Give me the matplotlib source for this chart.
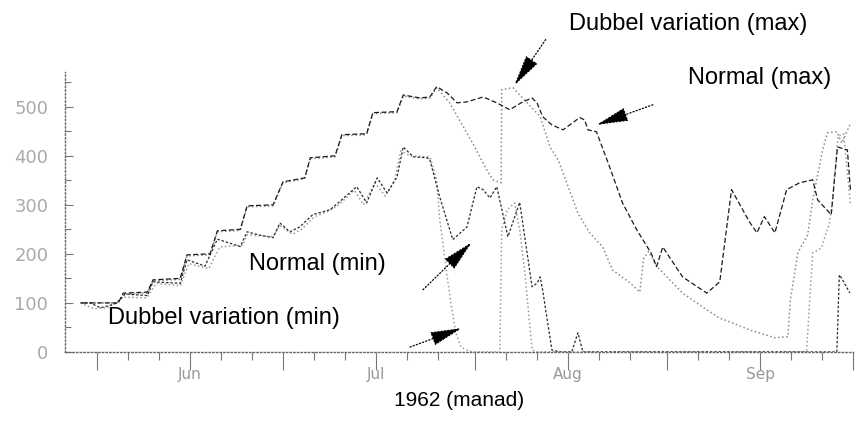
import matplotlib.pyplot as plt
import numpy as np

# dagar efter 1 juni 1962
norm_max_d = [-2.4, 3.4, 4.2, 8.1, 9.0, 13.4, 14.5, 18.2, 19.4, 23.1, 24.2, 28.4, 30.0, 33.5,
              34.4, 38.4, 39.5, 43.5, 44.5, 48.4, 49.4, 52.1, 53.7, 54.8, 56.5, 58.1, 59.7,
              62.3, 64.5, 66.6, 68.7, 70.2, 71.0, 71.9, 73.4, 75.2, 77.9, 78.7, 79.2, 80.6,
              82.7, 84.8, 87.1, 89.4, 90.3, 91.3, 94.5, 98.4, 100.5, 102.4, 105.3, 106.5,
              107.7, 109.4, 111.3, 113.4, 115.5, 116.3, 118.5, 119.5, 121.1, 121.6]
norm_max_v = [100, 100, 120, 122, 147, 150, 198, 200, 247, 250, 298, 300, 347, 355,
              396, 400, 443, 445, 488, 490, 524, 518, 520, 541, 528, 508, 510,
              520, 508, 494, 510, 518, 508, 480, 463, 453, 478, 473, 453, 449,
              378, 304, 249, 202, 174, 214, 153, 120, 143, 331, 265, 243,
              276, 243, 331, 345, 351, 310, 280, 418, 412, 330]

dub_max_d = [-2.4, 3.4, 4.2, 8.1, 9.0, 13.4, 14.5, 18.2, 19.4, 23.1, 24.2, 28.4, 30.0, 33.5,
             34.4, 38.4, 39.5, 43.5, 44.5, 48.4, 49.4, 52.1, 53.7, 54.8, 56.9, 60.6, 62.9,
             63.9, 65.2, 65.3, 67.1, 71.5, 73.1, 74.4, 75.8, 77.6, 79.5, 81.6, 83.2, 86.0,
             87.6, 88.2, 89.0, 90.3, 94.5, 98.4, 100.5, 102.6, 105.3, 109.4, 111.5, 111.9,
             113.1, 114.7, 115.5, 117.1, 117.9, 119.4, 120.2, 121.5]
dub_max_v = [100, 100, 118, 120, 145, 148, 196, 198, 245, 248, 296, 298, 345, 353,
             394, 398, 441, 443, 486, 488, 522, 516, 518, 539, 508, 426, 371,
             351, 345, 535, 539, 480, 418, 392, 345, 283, 243, 214, 167, 141,
             122, 190, 205, 175, 120, 86, 69, 59, 45, 29, 31, 106,
             202, 239, 310, 412, 447, 449, 426, 463]

norm_min_d = [-2.7, -1.1, 0.5, 2.1, 3.2, 4.5, 8.1, 9.0, 13.4, 14.5, 17.4, 19.4, 23.1, 24.2,
              26.3, 28.4, 29.5, 31.1, 32.7, 34.8, 37.6, 38.9, 41.9, 43.5, 45.2, 46.8, 48.4,
              49.4, 51.0, 53.2, 53.7, 55.3, 57.4, 59.7, 61.3, 62.3, 63.4, 64.5, 66.3, 68.2,
              70.2, 71.0, 71.5, 71.9, 73.4, 74.7, 76.6, 77.6, 78.4, 119.4, 119.8, 120.2, 121.5]
norm_min_v = [100, 100, 90, 95, 100, 118, 115, 143, 140, 188, 175, 230, 215, 245,
              238, 233, 263, 245, 255, 280, 290, 304, 337, 304, 355, 324, 357,
              418, 398, 396, 392, 316, 229, 255, 337, 331, 314, 337, 235, 305,
              133, 140, 153, 127, 4, 0, 0, 39, 0, 0, 157, 150, 120]

dub_min_d = [-2.7, -0.5, 1.5, 3.0, 4.0, 8.0, 9.5, 13.4, 14.8, 18.0, 19.8, 23.5, 24.2, 28.4,
             29.5, 31.5, 33.0, 35.0, 37.5, 39.0, 41.5, 43.0, 44.8, 46.5, 48.0, 49.0, 50.5,
             53.0, 53.7, 54.8, 55.3, 55.8, 56.5, 57.1, 57.9, 58.7, 59.7, 60.5, 65.0, 65.3,
             66.2, 67.4, 68.2, 69.0, 70.2, 71.0, 114.5, 115.5, 116.9, 118.2, 118.7, 119.6,
             120.5, 121.6]
dub_min_v = [100, 88, 90, 100, 112, 110, 140, 135, 180, 170, 214, 218, 239, 235,
             258, 240, 250, 275, 288, 300, 330, 300, 345, 318, 350, 410, 400,
             398, 398, 351, 269, 222, 153, 100, 39, 10, 4, 0, 0, 250,
             290, 304, 249, 167, 4, 0, 0, 202, 212, 263, 310, 440,
             445, 300]

month_starts = [0, 30, 61, 92, 122]
month_names = ['Jun', 'Jul', 'Aug', 'Sep']

fig = plt.figure(figsize=(8.55, 4.22), dpi=100)
ax = fig.add_axes([0.076, 0.166, 0.9216, 0.6635])

ax.plot(dub_max_d, dub_max_v, color='#8a8a8a', ls=':', lw=1.1)
ax.plot(dub_min_d, dub_min_v, color='#9a9a9a', ls=':', lw=1.1)
ax.plot(norm_min_d, norm_min_v, color='#2a2a2a', ls=(0, (2, 1.5)), lw=0.9)
ax.plot(norm_max_d, norm_max_v, color='#1a1a1a', ls=(0, (4, 2)), lw=0.9)

ax.set_xlim(-5.2, 122)
ax.set_ylim(0, 571)

# tick layout: 1:a och 16:e langa, 6, 11, 21, 26 korta
major = []
labels = []
minor = []
for i in range(4):
    s = month_starts[i]
    major += [s, s + 15]
    labels += ['', month_names[i]]
    minor += [s + 5, s + 10, s + 20, s + 25]
major.append(122)
labels.append('')
ax.set_xticks(major, labels=labels)
ax.set_xticks(minor, minor=True)
ax.tick_params(axis='x', which='major', direction='out', length=13, width=0.8,
               color='#777', labelsize=11, labelcolor='#999', pad=-2.5)
ax.tick_params(axis='x', which='minor', direction='out', length=6, width=0.8, color='#777')

ax.set_yticks(np.arange(0, 501, 100))
ax.set_yticks(np.arange(50, 571, 100), minor=True)
ax.tick_params(axis='y', which='major', direction='in', length=6, width=0.8,
               color='#777', labelsize=13, labelcolor='#aaa', pad=12)
ax.tick_params(axis='y', which='minor', direction='in', length=4, width=0.8, color='#777')

for side in ['top', 'right']:
    ax.spines[side].set_visible(False)
for side in ['left', 'bottom']:
    ax.spines[side].set_linestyle(':')
    ax.spines[side].set_color('#666')
    ax.spines[side].set_linewidth(1.0)

ax.set_xlabel('1962 (manad)', fontsize=15, family='Liberation Sans', labelpad=7)

# pilar
arrow = dict(arrowstyle='-|>,head_length=1.0,head_width=0.22', ls=':', lw=0.9,
             color='black', mutation_scale=20, shrinkA=0, shrinkB=0)
ax.annotate('', xy=(67.3, 543), xytext=(72.4, 637), arrowprops=arrow, annotation_clip=False)
ax.annotate('', xy=(80.6, 463), xytext=(89.7, 504), arrowprops=arrow, annotation_clip=False)
ax.annotate('', xy=(60.5, 224), xytext=(52.6, 127), arrowprops=arrow, annotation_clip=False)
ax.annotate('', xy=(58.9, 49), xytext=(50.5, 10), arrowprops=arrow, annotation_clip=False)

txt = dict(fontsize=17, family='Liberation Sans', ha='center', va='center')
fig.text(688 / 855, 1 - 24 / 422, 'Dubbel variation (max)', **txt)
fig.text(760 / 855, 1 - 78 / 422, 'Normal (max)', **txt)
fig.text(317 / 855, 1 - 264 / 422, 'Normal (min)', **txt)
fig.text(224 / 855, 1 - 318 / 422, 'Dubbel variation (min)', **txt)

plt.savefig('out.png', dpi=100)
